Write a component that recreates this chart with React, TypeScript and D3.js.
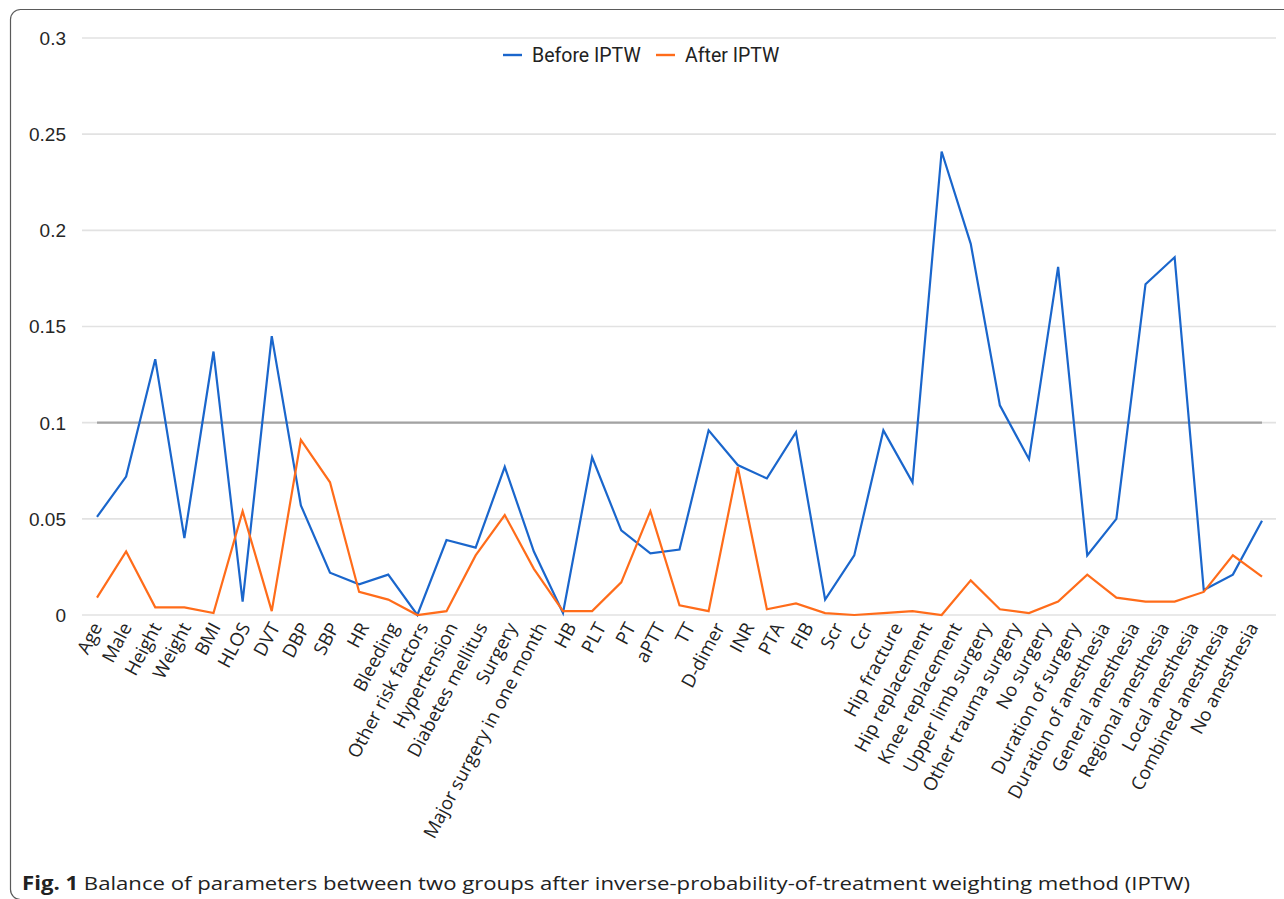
import React from "react";
import * as d3 from "d3";

// ---- data ----
const CATEGORIES = [
  "Age", "Male", "Height", "Weight", "BMI", "HLOS", "DVT", "DBP", "SBP", "HR",
  "Bleeding", "Other risk factors", "Hypertension", "Diabetes mellitus", "Surgery",
  "Major surgery in one month", "HB", "PLT", "PT", "aPTT", "TT", "D-dimer", "INR",
  "PTA", "FIB", "Scr", "Ccr", "Hip fracture", "Hip replacement", "Knee replacement",
  "Upper limb surgery", "Other trauma surgery", "No surgery", "Duration of surgery",
  "Duration of anesthesia", "General anesthesia", "Regional anesthesia",
  "Local anesthesia", "Combined anesthesia", "No anesthesia",
];

// plotted series (the picture's lines carry 41 vertices)
const BEFORE_IPTW = [
  0.051, 0.072, 0.133, 0.040, 0.137, 0.007, 0.145, 0.057, 0.022, 0.016,
  0.021, 0.000, 0.039, 0.035, 0.077, 0.033, 0.001, 0.082, 0.044, 0.032,
  0.034, 0.096, 0.078, 0.071, 0.095, 0.008, 0.031, 0.096, 0.069, 0.241,
  0.193, 0.109, 0.081, 0.181, 0.031, 0.050, 0.172, 0.186, 0.013, 0.021,
  0.049,
];
const AFTER_IPTW = [
  0.009, 0.033, 0.004, 0.004, 0.001, 0.054, 0.002, 0.091, 0.069, 0.012,
  0.008, 0.000, 0.002, 0.031, 0.052, 0.024, 0.002, 0.002, 0.017, 0.054,
  0.005, 0.002, 0.077, 0.003, 0.006, 0.001, 0.000, 0.001, 0.002, 0.000,
  0.018, 0.003, 0.001, 0.007, 0.021, 0.009, 0.007, 0.007, 0.012, 0.031,
  0.020,
];
const THRESHOLD = 0.1;

const Y_TICKS = [0, 0.05, 0.1, 0.15, 0.2, 0.25, 0.3];
const Y_TICK_LABELS = ["0", "0.05", "0.1", "0.15", "0.2", "0.25", "0.3"];

const SERIES_NAMES = ["Before IPTW", "After IPTW"];
const CAPTION_BOLD = "Fig. 1";
const CAPTION_TEXT =
  "Balance of parameters between two groups after inverse-probability-of-treatment weighting method (IPTW)";

// ---- styling ----
const W = 1284;
const H = 899;
const BLUE = "#1a66cc";
const ORANGE = "#ff6c1a";
const GRID = "#e2e2e2";
const REF = "#a3a3a3";

export default function App() {
  const idx = d3.range(BEFORE_IPTW.length);
  const x = d3.scalePoint<number>().domain(idx).range([97, 1262]);
  const xLab = d3.scalePoint<string>().domain(CATEGORIES).range([97, 1253]);
  const y = d3.scaleLinear().domain([0, 0.3]).range([615, 38]);

  const line = d3
    .line<number>()
    .x((_, i) => x(i) as number)
    .y((d) => y(d));

  const refLine = line(idx.map(() => THRESHOLD)) as string;

  return (
    <svg
      width={W}
      height={H}
      viewBox={`0 0 ${W} ${H}`}
      style={{ position: "absolute", left: 0, top: 0, background: "#fff" }}
    >
      <rect x={0} y={0} width={W} height={H} fill="#fff" />
      {/* outer frame */}
      <rect
        x={10.5}
        y={9.5}
        width={1320}
        height={890}
        rx={10}
        ry={10}
        fill="none"
        stroke="#5a5a5a"
        strokeWidth={1.2}
      />

      {/* gridlines + y labels */}
      {Y_TICKS.map((t, i) => (
        <g key={t}>
          <line
            x1={82}
            x2={1276}
            y1={y(t)}
            y2={y(t)}
            stroke={GRID}
            strokeWidth={1.6}
          />
          <text
            x={66}
            y={y(t)}
            dy="0.36em"
            textAnchor="end"
            fontFamily="'Liberation Sans', Arial, sans-serif"
            fontSize={19}
            fill="#262626"
          >
            {Y_TICK_LABELS[i]}
          </text>
        </g>
      ))}

      {/* 0.1 reference line */}
      <path d={refLine} fill="none" stroke={REF} strokeWidth={2.4} />

      {/* series */}
      <path
        d={line(BEFORE_IPTW) as string}
        fill="none"
        stroke={BLUE}
        strokeWidth={2.2}
        strokeLinejoin="miter"
      />
      <path
        d={line(AFTER_IPTW) as string}
        fill="none"
        stroke={ORANGE}
        strokeWidth={2.2}
        strokeLinejoin="miter"
      />

      {/* legend */}
      <g fontFamily="Roboto, 'Liberation Sans', Arial, sans-serif" fontSize={19.5} fill="#222">
        <line x1={503} x2={522} y1={55} y2={55} stroke={BLUE} strokeWidth={2.4} />
        <text x={532} y={55} dy="0.36em">{SERIES_NAMES[0]}</text>
        <line x1={656} x2={675} y1={55} y2={55} stroke={ORANGE} strokeWidth={2.4} />
        <text x={685} y={55} dy="0.36em">{SERIES_NAMES[1]}</text>
      </g>

      {/* x labels */}
      {CATEGORIES.map((c) => (
        <text
          key={c}
          transform={`translate(${xLab(c)},${624}) rotate(-62)`}
          textAnchor="end"
          dy="0.35em"
          fontFamily="'Open Sans', 'Noto Sans', sans-serif"
          fontSize={18.5}
          fill="#222"
        >
          {c}
        </text>
      ))}

      {/* caption */}
      <text
        x={22}
        y={890}
        fontFamily="'Open Sans', 'Noto Sans', sans-serif"
        fontSize={19}
        fill="#222"
        textLength={1168}
        lengthAdjust="spacingAndGlyphs"
      >
        <tspan fontWeight="bold">{CAPTION_BOLD}</tspan>
        <tspan>{"  " + CAPTION_TEXT}</tspan>
      </text>
    </svg>
  );
}
